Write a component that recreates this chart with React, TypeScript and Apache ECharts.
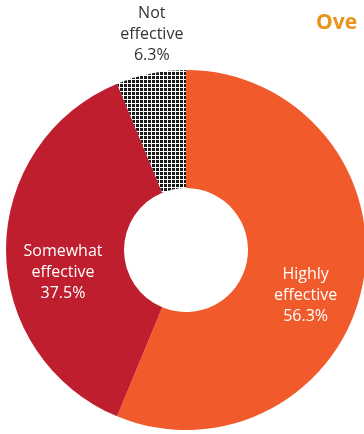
import React, { useEffect, useRef } from "react";
import * as echarts from "echarts";

const categories = ["Highly\neffective", "Somewhat\neffective", "Not\neffective"];
const values = [56.25, 37.5, 6.25];
const valueLabels = ["56.3%", "37.5%", "6.3%"];
const titleText = "Ove";

function makeHatch(): HTMLCanvasElement {
  const c = document.createElement("canvas");
  c.width = 4;
  c.height = 4;
  const ctx = c.getContext("2d")!;
  ctx.fillStyle = "#ffffff";
  ctx.fillRect(0, 0, 4, 4);
  ctx.fillStyle = "#1a1a1a";
  ctx.fillRect(0, 0, 3, 3);
  return c;
}

export default function App() {
  const ref = useRef<HTMLDivElement>(null);
  useEffect(() => {
    document.body.style.margin = "0";
    const chart = echarts.init(ref.current!, null, { renderer: "svg" });
    const hatch = makeHatch();
    const colors = ["#F15A2B", "#BE1E2D", { image: hatch, repeat: "repeat" }];
    const labelColors = ["#ffffff", "#ffffff", "#333333"];
    const offsets = [[-2, 20], [1, 21], [-10, -95]];
    chart.setOption({
      animation: false,
      title: {
        text: titleText,
        left: 316,
        top: 10,
        padding: 0,
        textStyle: { color: "#E8931E", fontSize: 21, fontWeight: "bold", fontFamily: "Open Sans" },
      },
      series: [
        {
          type: "pie",
          center: [186, 250],
          radius: [62, 180],
          startAngle: 90,
          clockwise: true,
          silent: true,
          labelLine: { show: false },
          data: categories.map((c, i) => ({
            name: c,
            value: values[i],
            itemStyle: { color: colors[i] as any },
            label: {
              show: true,
              position: "inside",
              formatter: c + "\n" + valueLabels[i],
              color: labelColors[i],
              fontSize: 16,
              lineHeight: 21,
              fontFamily: "Open Sans",
              align: "center",
              offset: offsets[i],
            },
          })),
        },
      ],
    });
    return () => chart.dispose();
  }, []);
  return <div ref={ref} style={{ position: "fixed", left: 0, top: 0, width: 364, height: 434 }} />;
}
